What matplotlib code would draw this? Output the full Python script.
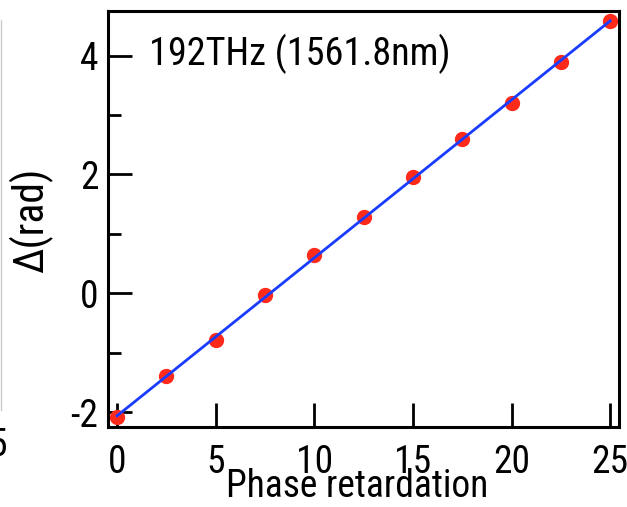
import matplotlib
matplotlib.use("Agg")
import matplotlib.pyplot as plt
import numpy as np
from matplotlib.ticker import MultipleLocator

retardation = [0, 2.5, 5, 7.5, 10, 12.5, 15, 17.5, 20, 22.5, 25]
delta = [-2.08, -1.40, -0.79, -0.03, 0.64, 1.28, 1.96, 2.60, 3.21, 3.89, 4.59]
xticks = [0, 5, 10, 15, 20, 25]
yticks = [-2, 0, 2, 4]

plt.rcParams['font.family'] = ['Roboto Condensed', 'DejaVu Sans']
plt.rcParams['axes.unicode_minus'] = False
fig = plt.figure(figsize=(6.27, 5.07), dpi=100)
W, H = 627, 507
ax = fig.add_axes([108 / W, 1 - 427 / H, (619 - 108) / W, (427 - 11) / H])

coef = np.polyfit(retardation, delta, 1)
xf = np.array([retardation[0], retardation[-1]])
ax.plot(retardation, delta, 'o', color='#ff2a1a', markersize=10, zorder=2)
ax.plot(xf, np.polyval(coef, xf), '-', color='#1a3cff', lw=2, zorder=3)

ax.set_xlim(-0.46, 25.45)
ax.set_ylim(-2.25, 4.75)
ax.set_xticks(xticks)
ax.set_yticks(yticks)
ax.yaxis.set_minor_locator(MultipleLocator(1))
ax.tick_params(axis='both', which='major', direction='in', length=17, width=2,
               labelsize=27, pad=7)
ax.tick_params(axis='y', which='minor', direction='in', length=9, width=2)
ax.tick_params(axis='x', pad=12)
for s in ax.spines.values():
    s.set_linewidth(2.2)

fig.text(226 / W, 1 - 497 / H, 'Phase retardation', fontsize=27, va='baseline', ha='left')
fig.text(31 / W, 1 - 220 / H, 'Δ(rad)', fontsize=30, va='center', ha='center', rotation=90)
fig.text(149 / W, 1 - 65 / H, '192THz (1561.8nm)', fontsize=27.5, va='baseline', ha='left')

# fragment of neighbouring panel at the left edge
fig.add_artist(plt.Line2D([1 / W, 1 / W], [1 - 410 / H, 1 - 20 / H], color='#cccccc', lw=1))
fig.text(-12 / W, 1 - 445 / H, '5', fontsize=27, va='center', ha='left')

fig.savefig('out.png', dpi=100)
